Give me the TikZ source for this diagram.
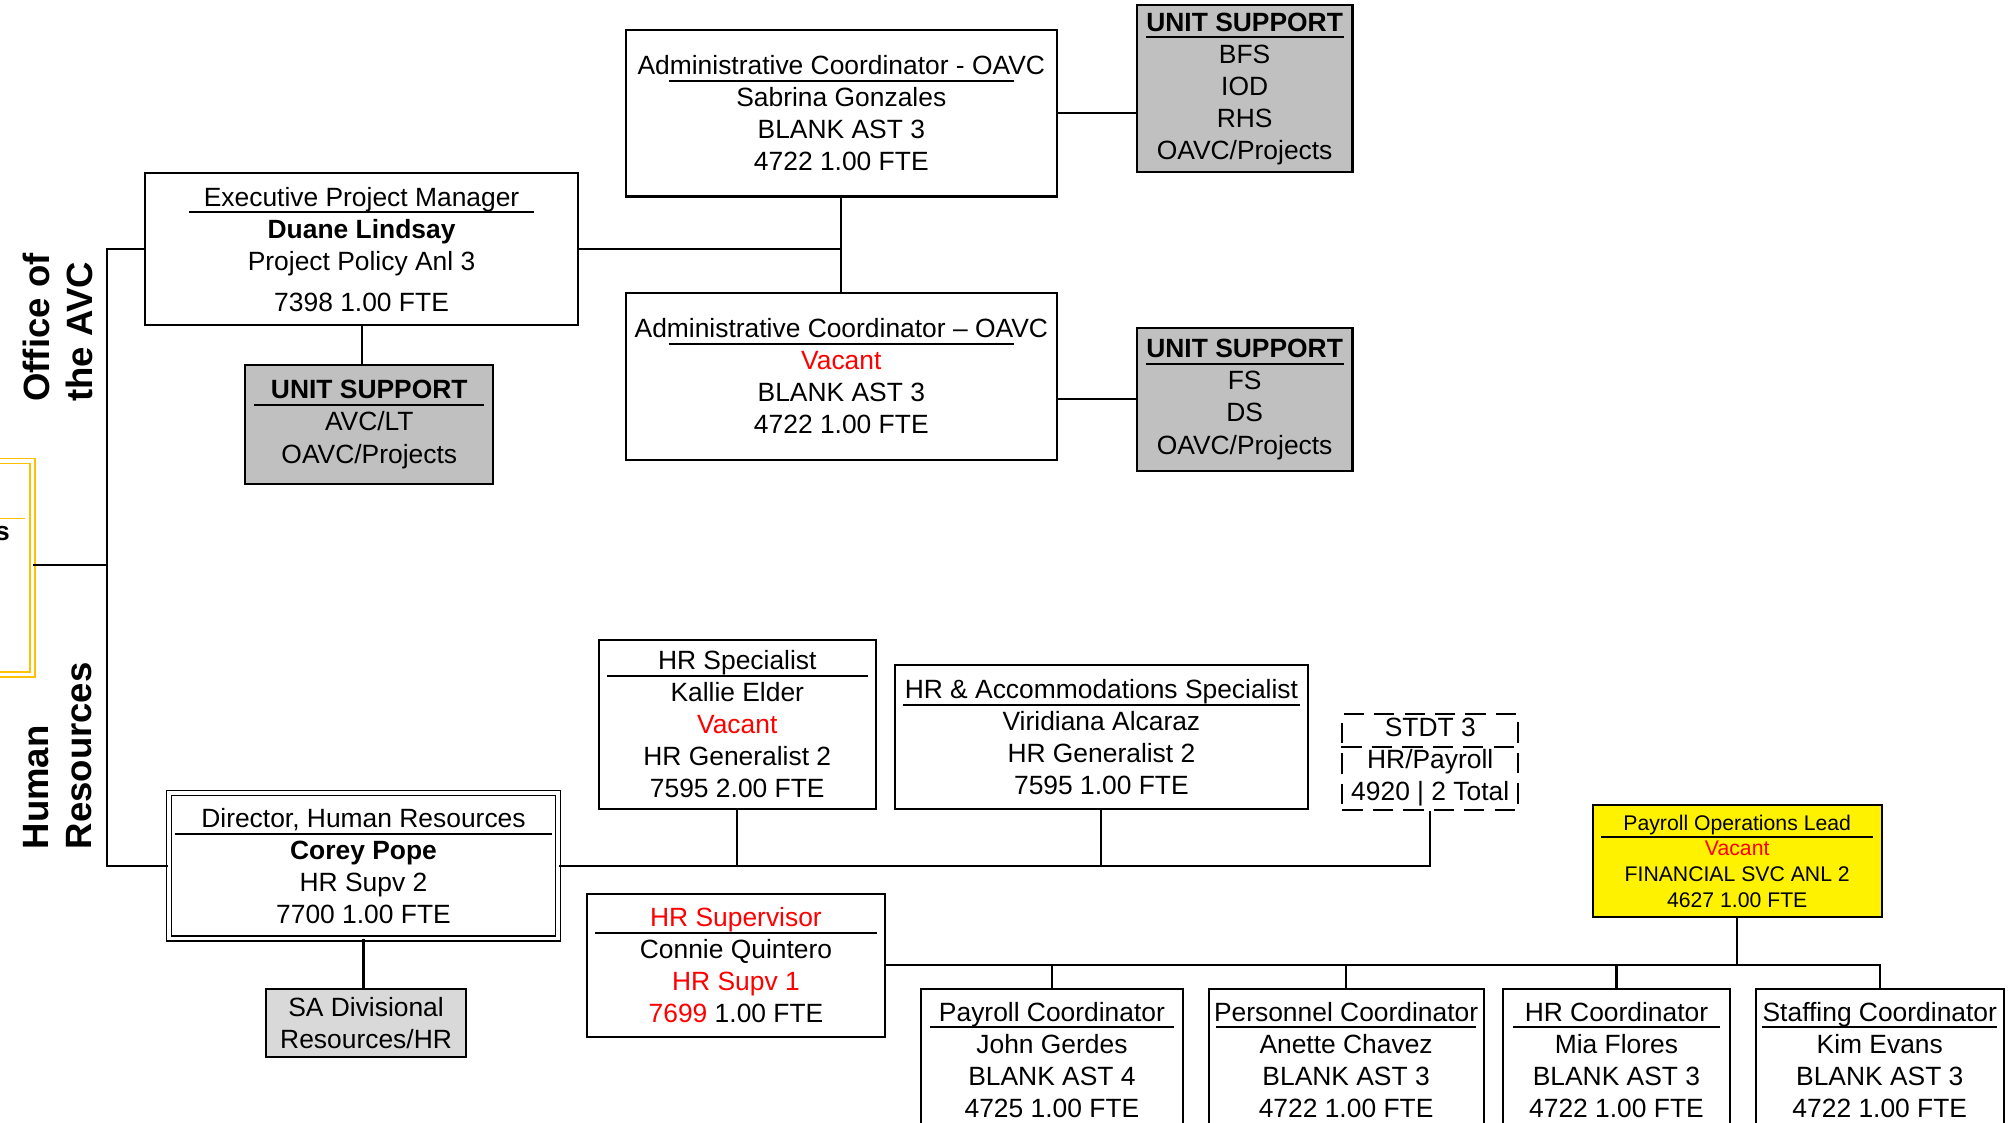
\documentclass[tikz,border=0pt]{standalone}
\usepackage{fontspec}
\setmainfont{Liberation Sans}
\usetikzlibrary{calc}
\definecolor{usgray}{HTML}{C0C0C0}
\definecolor{sagray}{HTML}{D9D9D9}
\definecolor{ylwline}{HTML}{FFC000}
\definecolor{vacred}{HTML}{FF0000}
\newcommand\ttl[2]{\makebox[#1]{#2}\llap{\raisebox{-3.3pt}[0pt][0pt]{\rule{#1}{0.9pt}}}}
\newcommand\vac[1]{\textcolor{vacred}{#1}}

\begin{document}
\begin{tikzpicture}[x=0.02cm,y=-0.02cm,
  txt/.style={font=\fontsize{11.7}{14.2}\selectfont, align=center, inner sep=0pt},
  posbox/.style={txt, draw, line width=0.9pt, fill=white},
  unitbox/.style={posbox, fill=usgray},
  lnk/.style={line width=0.9pt},
  sect/.style={font=\fontsize{16.2}{19.3}\selectfont\bfseries, align=left, rotate=90, inner sep=0pt},
  ybox/.style={draw=ylwline, double=white, double distance=1.5pt, line width=0.7pt, fill=white}]
  \useasboundingbox (0,0) rectangle (1568,874);
  \clip (0,0) rectangle (1568,874);

  % left side
  \node[ybox, minimum width=1.704cm, minimum height=3.32cm] (ylw) at (-17.4,442) {};
  \draw[ylwline, line width=0.7pt] ($(ylw.north west)!0.27!(ylw.south west)$) -- ++(80,0);
  \node[txt, font=\fontsize{11.7}{14.2}\selectfont\bfseries, anchor=east] (ylwtxt) at (8,415) {s};
  \node[sect] (lblAvc) at (45,255) {Office of\\the AVC};
  \node[sect] (lblHr) at (45,588.5) {Human\\Resources};

  % office of the avc
  \node[posbox, minimum width=6.74cm, minimum height=2.36cm] (exec) at (281.5,194)
    {\ttl{5.38cm}{Executive Project Manager}\\ \textbf{Duane Lindsay}\\ Project Policy Anl 3\\[4pt] 7398 1.00 FTE};
  \node[unitbox, minimum width=3.86cm, minimum height=1.86cm] (usAvc) at (287.5,330.5)
    {\ttl{3.58cm}{\textbf{UNIT SUPPORT}}\\ AVC/LT\\ OAVC/Projects};
  \node[posbox, minimum width=6.72cm, minimum height=2.6cm] (adm1) at (655,88)
    {\ttl{5.38cm}{Administrative Coordinator - OAVC}\\ Sabrina Gonzales\\ BLANK AST 3\\ 4722 1.00 FTE};
  \node[posbox, minimum width=6.72cm, minimum height=2.6cm] (adm2) at (655,293)
    {\ttl{5.38cm}{Administrative Coordinator – OAVC}\\ \vac{Vacant}\\ BLANK AST 3\\ 4722 1.00 FTE};
  \node[unitbox, minimum width=3.36cm, minimum height=2.6cm] (usBfs) at (969,69)
    {\ttl{3.08cm}{\textbf{UNIT SUPPORT}}\\ BFS\\ IOD\\ RHS\\ OAVC/Projects};
  \node[unitbox, minimum width=3.36cm, minimum height=2.24cm] (usFs) at (969,311)
    {\ttl{3.08cm}{\textbf{UNIT SUPPORT}}\\ FS\\ DS\\ OAVC/Projects};

  % human resources
  \node[posbox, double, double distance=1.5pt, line width=0.7pt, minimum width=6.06cm, minimum height=2.26cm] (dir) at (283,674)
    {\ttl{5.88cm}{Director, Human Resources}\\ \textbf{Corey Pope}\\ HR Supv 2\\ 7700 1.00 FTE};
  \node[posbox, fill=sagray, minimum width=3.12cm, minimum height=1.06cm] (sa) at (285,796.5)
    {SA Divisional\\ Resources/HR};
  \node[posbox, minimum width=4.32cm, minimum height=2.64cm] (spec) at (574,564)
    {\ttl{4.06cm}{HR Specialist}\\ Kallie Elder\\ \vac{Vacant}\\ HR Generalist 2\\ 7595 2.00 FTE};
  \node[posbox, minimum width=6.42cm, minimum height=2.24cm] (acc) at (857.5,574)
    {\ttl{6.18cm}{HR \& Accommodations Specialist}\\ Viridiana Alcaraz\\ HR Generalist 2\\ 7595 1.00 FTE};
  \node[posbox, dash pattern=on 9pt off 4.5pt, minimum width=2.74cm, minimum height=1.5cm] (stdt) at (1113.5,593.5)
    {STDT 3\\ HR/Payroll\\ 4920 | 2 Total};
  \draw[lnk, dash pattern=on 9pt off 4.5pt] ($(stdt.north west)!0.34!(stdt.south west)$) -- ($(stdt.north east)!0.34!(stdt.south east)$);
  \node[posbox, minimum width=4.64cm, minimum height=2.22cm] (sup) at (573,751.5)
    {\ttl{4.38cm}{\vac{HR Supervisor}}\\ Connie Quintero\\ \vac{HR Supv 1}\\ \vac{7699} 1.00 FTE};
  \node[posbox, fill=yellow, font=\fontsize{9.4}{11.4}\selectfont, minimum width=4.5cm, minimum height=1.74cm] (pol) at (1352.5,670.5)
    {\ttl{4.24cm}{Payroll Operations Lead}\\ \vac{Vacant}\\ FINANCIAL SVC ANL 2\\ 4627 1.00 FTE};
  \node[posbox, minimum width=4.08cm, minimum height=2.2cm] (pc) at (819,825)
    {\ttl{3.8cm}{Payroll Coordinator}\\ John Gerdes\\ BLANK AST 4\\ 4725 1.00 FTE};
  \node[posbox, minimum width=4.28cm, minimum height=2.2cm] (prc) at (1048,825)
    {\ttl{4.06cm}{Personnel Coordinator}\\ Anette Chavez\\ BLANK AST 3\\ 4722 1.00 FTE};
  \node[posbox, minimum width=3.54cm, minimum height=2.2cm] (hrc) at (1258.5,825)
    {\ttl{3.22cm}{HR Coordinator}\\ Mia Flores\\ BLANK AST 3\\ 4722 1.00 FTE};
  \node[posbox, minimum width=3.86cm, minimum height=2.2cm] (stc) at (1463.5,825)
    {\ttl{3.66cm}{Staffing Coordinator}\\ Kim Evans\\ BLANK AST 3\\ 4722 1.00 FTE};

  % connectors
  \coordinate (spine) at (83,440);
  \draw[lnk] (exec.west) -| (spine) |- (dir.west);
  \draw[lnk] (ylw.east |- spine) -- (spine);
  \draw[lnk] (exec.south) -- (exec.south |- usAvc.north);
  \draw[lnk] (adm1.south) -- (adm2.north);
  \draw[lnk] (exec.east) -- (exec.east -| adm1.south);
  \draw[lnk] (adm1.east) -- (adm1.east -| usBfs.west);
  \draw[lnk] (usFs.west) -- (usFs.west -| adm2.east);
  \draw[lnk] (dir.south) -- (dir.south |- sa.north);
  \draw[lnk] (dir.east) -| (stdt.south);
  \draw[lnk] (spec.south) -- (spec.south |- dir.east);
  \draw[lnk] (acc.south) -- (acc.south |- dir.east);
  \draw[lnk] (sup.east) -| (stc.north);
  \draw[lnk] (pol.south) -- (pol.south |- sup.east);
  \foreach \b in {pc,prc,hrc}
    \draw[lnk] (\b.north) -- (\b.north |- sup.east);
\end{tikzpicture}
\end{document}
